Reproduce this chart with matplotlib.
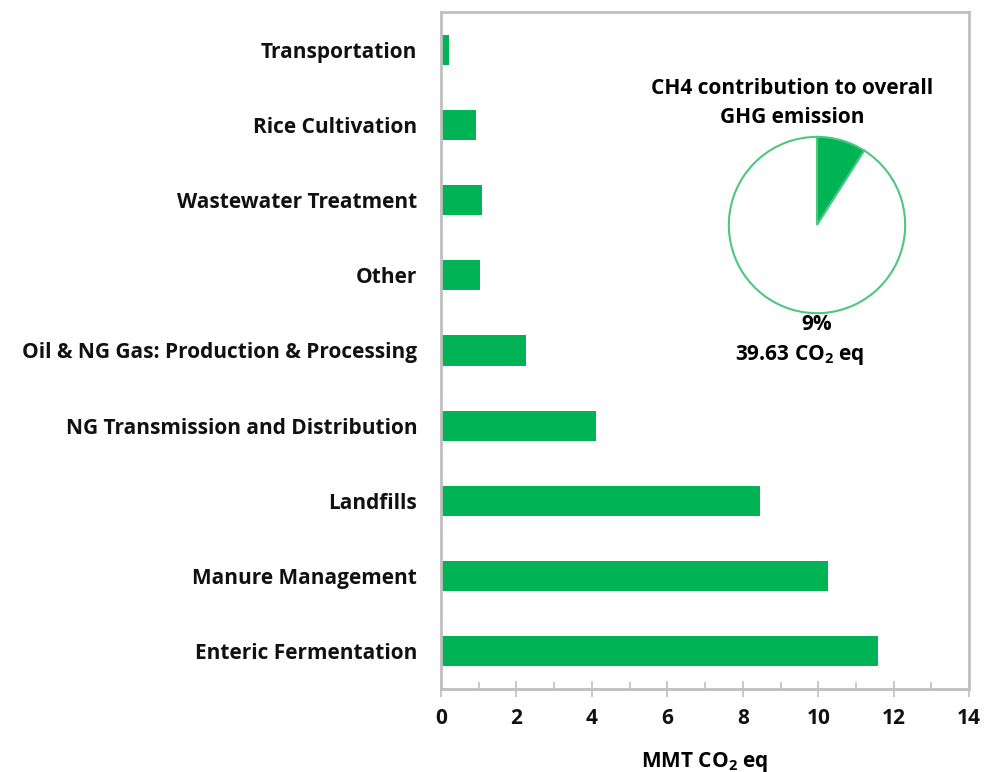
import numpy as np
import matplotlib.pyplot as plt
from matplotlib.ticker import MultipleLocator

plt.rcParams['font.family'] = ['Open Sans', 'DejaVu Sans']
plt.rcParams['mathtext.fontset'] = 'custom'
plt.rcParams['mathtext.rm'] = 'Open Sans'
plt.rcParams['mathtext.bf'] = 'Open Sans:bold'

# sources, bottom to top
sources = ["Enteric Fermentation", "Manure Management", "Landfills",
           "NG Transmission and Distribution",
           "Oil & NG Gas: Production & Processing", "Other",
           "Wastewater Treatment", "Rice Cultivation", "Transportation"]
emissions = [11.59, 10.26, 8.45, 4.12, 2.26, 1.05, 1.08, 0.93, 0.21]

# CH4 share of overall GHG
pie_vals = [9, 91]
pie_pct = "9%"
pie_total = "39.63"

green = "#00B456"
edge = "#4CC77F"
grey = "#BFBFBF"
fs = 15

fig = plt.figure(figsize=(9.84, 7.72), dpi=100)
ax = fig.add_axes([0.448, 0.1075, 0.537, 0.877])

y = np.arange(len(sources))
ax.barh(y, emissions, height=0.4, color=green)
ax.set_ylim(-0.5, len(sources) - 0.5)
ax.set_xlim(0, 14)
ax.set_yticks(y)
ax.set_yticklabels(sources, fontsize=fs, fontweight='bold', color='#111111')
ax.tick_params(axis='y', length=0, pad=17)

ax.xaxis.set_major_locator(MultipleLocator(2))
ax.xaxis.set_minor_locator(MultipleLocator(1))
ax.tick_params(axis='x', which='major', direction='inout', length=11, width=1.2,
               color=grey, labelsize=fs, pad=8)
ax.tick_params(axis='x', which='minor', direction='in', length=5, width=1.2, color=grey)
for lbl in ax.get_xticklabels():
    lbl.set_fontweight('bold')
    lbl.set_color('#111111')
ax.set_xlabel("MMT CO$_\\mathbf{2}$ eq", fontsize=fs, fontweight='bold', labelpad=15)

for s in ax.spines.values():
    s.set_color(grey)
    s.set_linewidth(2)

# inset pie
pax = fig.add_axes([0.7388, 0.592, 0.183, 0.233])
pax.pie(pie_vals, colors=[green, "white"], startangle=90, counterclock=False,
        wedgeprops=dict(edgecolor=edge, linewidth=1.5))
pax.set_xlim(-1.02, 1.02)
pax.set_ylim(-1.02, 1.02)
pax.set_aspect('equal')

fig.text(0.805, 0.866, "CH4 contribution to overall\nGHG emission", ha='center',
         va='center', fontsize=fs, fontweight='bold', linespacing=1.5)
fig.text(0.830, 0.580, pie_pct, ha='center', va='center', fontsize=fs,
         fontweight='bold')
fig.text(0.813, 0.540, pie_total + " CO$_\\mathbf{2}$ eq", ha='center', va='center',
         fontsize=fs, fontweight='bold')

plt.savefig("out.png", dpi=100)
